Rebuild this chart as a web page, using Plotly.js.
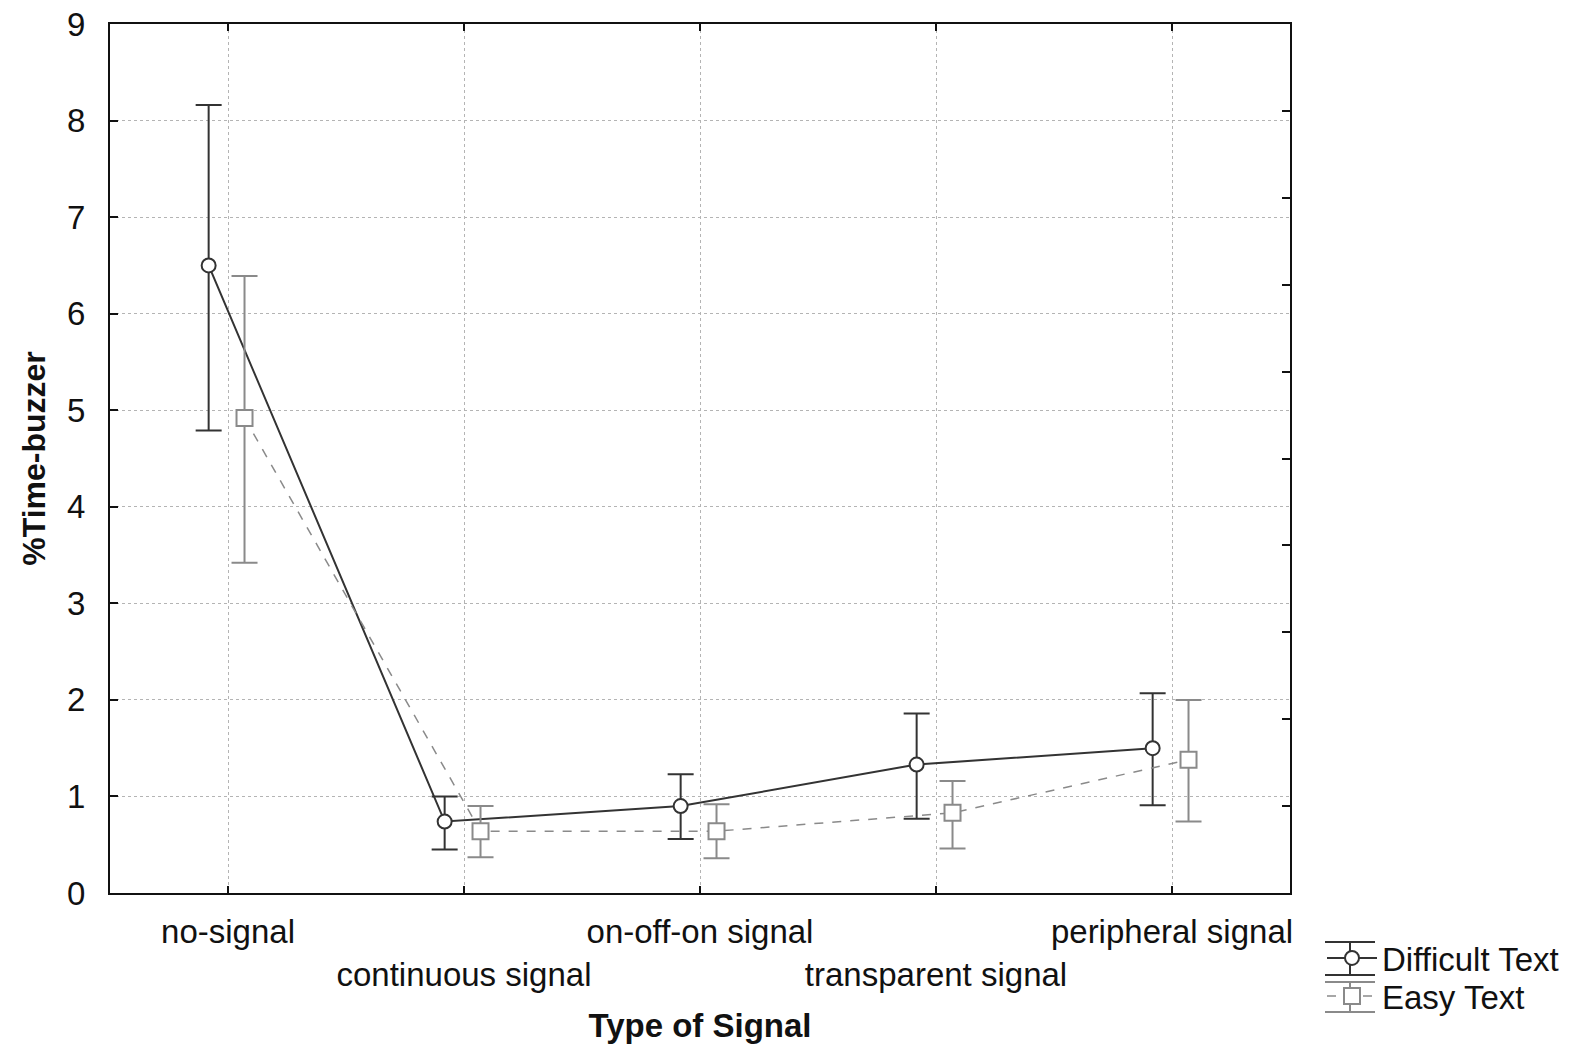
<!DOCTYPE html>
<html>
<head>
<meta charset="utf-8">
<script src="https://cdn.plot.ly/plotly-3.0.1.min.js"></script>
<style>html,body{margin:0;padding:0;background:#fff;}#chart{width:1576px;height:1048px;}</style>
</head>
<body>
<div id="chart"></div>
<script>
const categories = ["no-signal", "continuous signal", "on-off-on signal", "transparent signal", "peripheral signal"];
const yTickValues = [0, 1, 2, 3, 4, 5, 6, 7, 8, 9];

const difficultMean  = [6.50, 0.74, 0.90, 1.33, 1.50];
const difficultUpper = [8.16, 1.00, 1.23, 1.86, 2.07];
const difficultLower = [4.79, 0.45, 0.56, 0.77, 0.91];

const easyMean  = [4.92, 0.64, 0.64, 0.83, 1.38];
const easyUpper = [6.39, 0.90, 0.92, 1.16, 2.00];
const easyLower = [3.42, 0.37, 0.36, 0.46, 0.74];

const FONT = "Liberation Sans, Arial, sans-serif";
const DARK = "#333333";
const GREY = "#8a8a8a";
const idx = categories.map((c, i) => i);
const tickText = categories.map((c, i) => (i % 2 === 1 ? "<br>" + c : c));

const difficult = {
  name: "Difficult Text", legend: "legend",
  x: idx.map(i => i - 0.082),
  y: difficultMean,
  type: "scatter",
  mode: "lines+markers",
  line: {color: DARK, width: 2},
  marker: {symbol: "circle", size: 14, color: "#ffffff", line: {color: DARK, width: 2}},
  error_y: {
    type: "data", symmetric: false,
    array: difficultUpper.map((u, i) => u - difficultMean[i]),
    arrayminus: difficultLower.map((l, i) => difficultMean[i] - l),
    color: DARK, thickness: 2, width: 13
  }
};

const easy = {
  name: "Easy Text", legend: "legend2",
  x: idx.map(i => i + 0.07),
  y: easyMean,
  type: "scatter",
  mode: "lines+markers",
  line: {color: GREY, width: 1.5, dash: "dash"},
  marker: {symbol: "square", size: 16, color: "#ffffff", line: {color: GREY, width: 2}},
  error_y: {
    type: "data", symmetric: false,
    array: easyUpper.map((u, i) => u - easyMean[i]),
    arrayminus: easyLower.map((l, i) => easyMean[i] - l),
    color: GREY, thickness: 2, width: 13
  }
};

// empty trace so that the right-hand frame axis (10 divisions) is drawn
const frameRight = {x: [], y: [], type: "scatter", mode: "lines", yaxis: "y2", showlegend: false, hoverinfo: "skip"};

// legend decoration (error-bar style lines above/below each legend symbol), pixel -> paper
const PL = 110, PT = 24, PW = 1180, PH = 869;
const px = v => (v - PL) / PW;
const py = v => (PT + PH - v) / PH;
function hline(x0, x1, y, color) {
  return {type: "line", xref: "paper", yref: "paper", x0: px(x0), x1: px(x1), y0: py(y), y1: py(y),
          line: {color: color, width: 2}};
}
function vline(x, y0, y1, color) {
  return {type: "line", xref: "paper", yref: "paper", x0: px(x), x1: px(x), y0: py(y0), y1: py(y1),
          line: {color: color, width: 2}};
}
const LX = 1322;
const legendShapes = [
  hline(LX + 3, LX + 53, 942, DARK), hline(LX + 3, LX + 53, 975, DARK),
  vline(LX + 28, 942, 975, DARK),
  hline(LX + 3, LX + 53, 982, GREY), hline(LX + 3, LX + 53, 1012, GREY),
  vline(LX + 28, 982, 1012, GREY)
];

const legendCommon = {
  xanchor: "left", yanchor: "top", bgcolor: "rgba(0,0,0,0)",
  font: {family: FONT, size: 33, color: "#111111"}, itemwidth: 50, borderwidth: 0
};

const layout = {
  width: 1576, height: 1048,
  margin: {l: 110, r: 286, t: 24, b: 155, pad: 0, autoexpand: false},
  paper_bgcolor: "#ffffff", plot_bgcolor: "#ffffff",
  font: {family: FONT, size: 33, color: "#111111"},
  showlegend: true,
  legend: Object.assign({x: px(LX), y: py(930)}, legendCommon),
  legend2: Object.assign({x: px(LX), y: py(968)}, legendCommon),
  shapes: legendShapes,
  xaxis: {
    range: [-0.5, 4.5],
    tickmode: "array", tickvals: idx, ticktext: tickText, tickangle: 0,
    ticks: "inside", ticklen: 7, tickwidth: 2, tickcolor: "#111111",
    showline: true, linecolor: "#111111", linewidth: 2, mirror: "ticks",
    showgrid: true, gridcolor: "#b4b4b4", gridwidth: 1, griddash: "dot",
    zeroline: false,
    tickfont: {family: FONT, size: 33, color: "#111111"},
    ticklabelstandoff: 8,
    title: {text: "<b>Type of Signal</b>", font: {family: FONT, size: 33, color: "#111111"}, standoff: 22}
  },
  yaxis: {
    range: [0, 9],
    tickmode: "array", tickvals: yTickValues,
    ticks: "inside", ticklen: 8, tickwidth: 2, tickcolor: "#111111",
    showline: true, linecolor: "#111111", linewidth: 2, mirror: true,
    showgrid: true, gridcolor: "#b4b4b4", gridwidth: 1, griddash: "dot",
    zeroline: false,
    tickfont: {family: FONT, size: 33, color: "#111111"},
    ticklabelstandoff: 16,
    title: {text: "<b>%Time-buzzer</b>", font: {family: FONT, size: 32, color: "#111111"}, standoff: 12}
  },
  yaxis2: {
    overlaying: "y", side: "right", range: [0, 10], dtick: 1,
    ticks: "inside", ticklen: 8, tickwidth: 2, tickcolor: "#111111",
    showticklabels: false, showgrid: false, zeroline: false,
    showline: true, linecolor: "#111111", linewidth: 2
  }
};

Plotly.newPlot("chart", [difficult, easy, frameRight], layout, {displayModeBar: false, staticPlot: true});
</script>
</body>
</html>
